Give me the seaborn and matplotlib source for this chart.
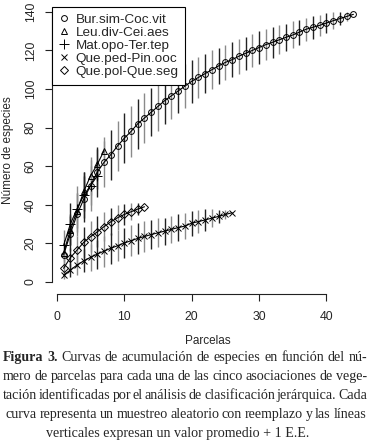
import numpy as np
import pandas as pd
import matplotlib
matplotlib.use("Agg")
import matplotlib.pyplot as plt
from matplotlib.lines import Line2D
import seaborn as sns

# Datos (media y 1 E.E.)
grupos = ["Bur.sim-Coc.vit", "Leu.div-Cei.aes", "Mat.opo-Ter.tep",
          "Que.ped-Pin.ooc", "Que.pol-Que.seg"]
marcadores = ["o", "^", "+", "x", "D"]
tamanos = [4.2, 5.0, 6.5, 5.0, 4.0]

bur_media = [14, 25, 35, 43, 50, 57, 62, 66, 70.5, 74.5, 78, 82, 85, 88, 91, 94,
             96.5, 99, 101.5, 104, 106, 108, 110, 112, 113.8, 115.2, 117, 118.5,
             120, 121.5, 123, 124.2, 125.5, 126.8, 128, 129.5, 131, 132, 133,
             134.2, 135.4, 136.5, 137.6, 138.7]
bur_ee = [6, 9, 11, 12, 13, 13, 13, 13, 13, 13, 13, 13, 13, 12.5, 12.5, 12, 12,
          11.5, 11.5, 11, 10.5, 10, 10, 9.5, 9, 9, 9, 8.5, 8.5, 8.5, 8, 8, 7.5,
          7, 7, 6.5, 6, 6, 5.5, 5, 4.5, 3.5, 2.5, 0]

leu_media = [15, 27, 37, 47, 55, 61, 68]
leu_ee = [5, 8, 9, 10, 10, 8, 5]

mat_media = [19, 30, 38, 45, 50, 55]
mat_ee = [8, 11, 12, 12, 10, 7]

ped_media = [3.6, 6.2, 8.8, 11, 12.8, 14.5, 16, 17.5, 18.8, 20.2, 21.4, 22.6,
             23.6, 24.6, 25.5, 26.4, 27.3, 28.2, 29, 30.5, 31.3, 32.2, 33.1, 34,
             35, 35.9]
ped_ee = [2, 3.5, 5, 6, 7, 7.5, 8, 8, 8, 8, 8, 8, 8, 7.5, 7.5, 7, 7, 7, 6.8,
          6.5, 6, 5.5, 4.5, 3.5, 2.2, 0]

pol_media = [7.1, 12.6, 16.6, 20.6, 23.5, 26, 28.7, 31.2, 33.3, 35, 36.4, 37.8, 39]
pol_ee = [3, 5, 7, 8, 8, 8, 7.5, 7, 6.5, 5.5, 4.5, 3, 0]

medias = [bur_media, leu_media, mat_media, ped_media, pol_media]
errores = [bur_ee, leu_ee, mat_ee, ped_ee, pol_ee]

filas = []
for g, m, e in zip(grupos, medias, errores):
    for i, (mi, ei) in enumerate(zip(m, e)):
        filas.append({"grupo": g, "parcelas": i + 1, "especies": mi, "ee": ei})
df = pd.DataFrame(filas)

sns.set_style("ticks")
plt.rcParams["font.family"] = ["Liberation Sans", "DejaVu Sans"]

W, H = 370, 447
fig = plt.figure(figsize=(W / 100, H / 100), dpi=100)
ax = fig.add_axes([52 / W, 1 - 294 / H, (365 - 52) / W, (294 - 7) / H])

for g, mk, ms in zip(grupos, marcadores, tamanos):
    sub = df[df["grupo"] == g]
    # barras de error (alternan negro/gris como en el original)
    colores = ["#222222" if p % 2 == 0 else "#8a8a8a" for p in sub["parcelas"]]
    ax.vlines(sub["parcelas"], sub["especies"] - sub["ee"], sub["especies"] + sub["ee"],
              colors=colores, lw=1.0, zorder=2)
    sns.lineplot(data=sub, x="parcelas", y="especies", color="black", marker=mk,
                 estimator=None, errorbar=None, linewidth=0.8, markersize=ms,
                 markerfacecolor="none", markeredgecolor="black",
                 markeredgewidth=0.7, ax=ax, zorder=3)

ax.set_xlim(-0.72, 45.72)
ax.set_ylim(-6.2, 142.5)
ax.set_xticks([0, 10, 20, 30, 40])
ax.set_yticks([0, 20, 40, 60, 80, 100, 120, 140])
ax.spines["top"].set_visible(False)
ax.spines["right"].set_visible(False)
ax.spines["bottom"].set_bounds(0, 40)
ax.spines["left"].set_bounds(0, 140)
for s in ["left", "bottom"]:
    ax.spines[s].set_linewidth(0.8)
    ax.spines[s].set_color("#222222")
ax.tick_params(axis="both", direction="out", length=5, width=0.8,
               labelsize=8.8, color="#222222")
ax.tick_params(axis="x", pad=7)
ax.tick_params(axis="y", pad=6)
for lab in ax.get_yticklabels():
    lab.set_rotation(90)
    lab.set_va("center")
ax.set_xlabel("")
ax.set_ylabel("")

manejadores = [Line2D([], [], marker=m, ls="none", color="black", mfc="none",
                      mew=0.7, ms=s) for m, s in zip(marcadores, tamanos)]
leg = ax.legend(manejadores, grupos, loc="upper left", bbox_to_anchor=(0, 1),
                borderaxespad=0, fontsize=9.7, frameon=True, fancybox=False,
                edgecolor="black", framealpha=1, handlelength=0.8,
                handletextpad=0.45, labelspacing=0.04, borderpad=0.5)
leg.get_frame().set_linewidth(0.8)

fig.text(208 / W, 1 - 341 / H, "Parcelas", ha="center", va="center", fontsize=8.5)
fig.text(8 / W, 1 - 150 / H, "Número de especies", ha="center", va="center",
         rotation=90, fontsize=8.5)

# Pie de figura justificado
fs = 10.1
r = fig.canvas.get_renderer()
lineas = [
    "Figura 3. Curvas de acumulación de especies en función del nú-",
    "mero de parcelas para cada una de las cinco asociaciones de vege-",
    "tación identificadas por el análisis de clasificación jerárquica. Cada",
    "curva representa un muestreo aleatorio con reemplazo y las líneas",
]
bases = [361, 380, 399, 418]
for k, (linea, yb) in enumerate(zip(lineas, bases)):
    palabras = linea.split(" ")
    objs = []
    for j, p in enumerate(palabras):
        peso = "bold" if (k == 0 and j < 2) else "normal"
        objs.append(fig.text(0, 1 - yb / H, p, fontsize=fs, weight=peso,
                             family="Liberation Serif", va="baseline", ha="left"))
    anchos = [o.get_window_extent(r).width for o in objs]
    x0, x1 = (3, 367) if k < 3 else (6, 366)
    hueco = (x1 - x0 - sum(anchos)) / (len(objs) - 1)
    x = x0
    for o, a in zip(objs, anchos):
        o.set_x(x / W)
        x += a + hueco

fig.text(178 / W, 1 - 436.7 / H, "verticales expresan un valor promedio + 1 E.E.",
         fontsize=fs, family="Liberation Serif", va="baseline", ha="center")

fig.savefig("out.png", dpi=100)
